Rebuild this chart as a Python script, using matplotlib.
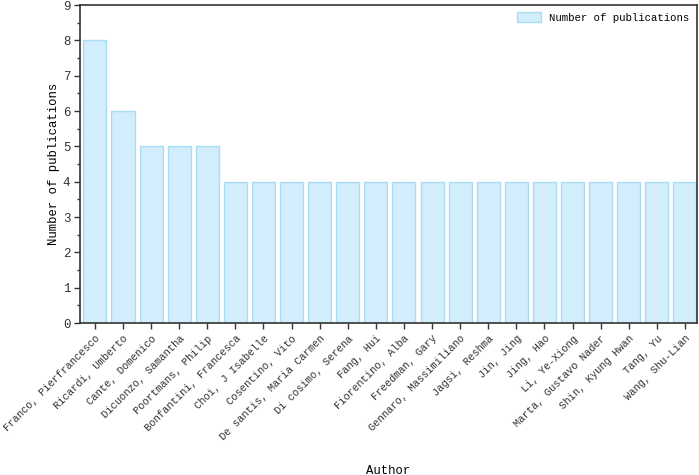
import matplotlib.pyplot as plt
from matplotlib.ticker import MultipleLocator

authors = ["Franco, Pierfrancesco", "Ricardi, Umberto", "Cante, Domenico",
           "Dicuonzo, Samantha", "Poortmans, Philip", "Bonfantini, Francesca",
           "Choi, J Isabelle", "Cosentino, Vito", "De santis, Maria Carmen",
           "Di cosimo, Serena", "Fang, Hui", "Fiorentino, Alba", "Freedman, Gary",
           "Gennaro, Massimiliano", "Jagsi, Reshma", "Jin, Jing", "Jing, Hao",
           "Li, Ye-Xiong", "Marta, Gustavo Nader", "Shin, Kyung Hwan", "Tang, Yu",
           "Wang, Shu-Lian"]
pubs = [8, 6, 5, 5, 5, 4, 4, 4, 4, 4, 4, 4, 4, 4, 4, 4, 4, 4, 4, 4, 4, 4]

plt.rcParams['font.family'] = ['Liberation Mono', 'DejaVu Sans Mono']

fig = plt.figure(figsize=(6.99, 4.75), dpi=100)
ax = fig.add_axes([80/699, 1-323/475, 617/699, 318/475])

x = range(len(authors))
ax.bar(x, pubs, width=0.82, color='#d2edfc', edgecolor='#a9ddf6', linewidth=1,
       label='Number of publications')

ax.set_xlim(-0.53, len(authors) - 0.57)
ax.set_ylim(0, 9)
ax.yaxis.set_major_locator(MultipleLocator(1))
ax.yaxis.set_minor_locator(MultipleLocator(0.5))
ax.set_xticks(list(x))
ax.set_xticklabels(authors, rotation=45, ha='right', rotation_mode='anchor', fontsize=7.6)
ax.tick_params(axis='y', labelsize=9, direction='out', length=4, width=1, pad=3)
ax.tick_params(axis='y', which='minor', length=2.5, width=1)
ax.tick_params(axis='x', direction='out', length=4, width=1)
ax.tick_params(colors='#333333', labelcolor='#333333', which='both')
for s in ax.spines.values():
    s.set_linewidth(1.2)
    s.set_color('#333333')

ax.set_ylabel('Number of publications', fontsize=8.8)
ax.yaxis.set_label_coords(-0.033, 0.5)
ax.set_xlabel('Author', fontsize=8.8)
ax.xaxis.set_label_coords(0.5, -0.445)

leg = ax.legend(loc='upper right', fontsize=7.7, frameon=False,
                borderaxespad=0.3, handlelength=2.2, handleheight=1.0)

fig.savefig('out.png', dpi=100)
